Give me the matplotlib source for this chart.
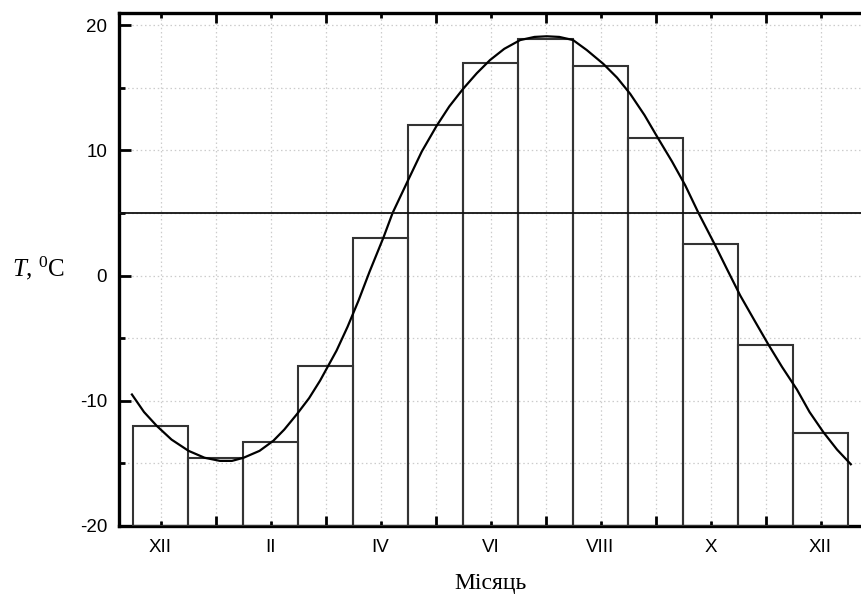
import matplotlib
matplotlib.use("Agg")
import matplotlib.pyplot as plt
from matplotlib.ticker import MultipleLocator, FixedLocator

# monthly mean temperatures, XII .. XII
months = ["XII", "I", "II", "III", "IV", "V", "VI", "VII", "VIII", "IX", "X", "XI", "XII"]
temps = [-12.0, -14.6, -13.3, -7.2, 3.0, 12.0, 17.0, 18.9, 16.7, 11.0, 2.5, -5.55, -12.6]

# smooth approximating curve (month index, T)
curve_x = [-0.52, -0.3, -0.07, 0.2, 0.51, 0.8, 1.08, 1.3, 1.51, 1.8, 2.05, 2.25, 2.48, 2.7,
           2.9, 3.2, 3.4, 3.6, 3.8, 4.05, 4.22, 4.5, 4.75, 5.02, 5.25, 5.5, 5.75, 5.99,
           6.25, 6.54, 6.8, 7.02, 7.25, 7.5, 7.75, 8.05, 8.3, 8.54, 8.8, 9.04, 9.3, 9.54,
           9.78, 10.08, 10.3, 10.54, 10.8, 11.05, 11.3, 11.57, 11.8, 12.05, 12.3, 12.55]
curve_y = [-9.5, -10.9, -12.0, -13.1, -14.0, -14.55, -14.8, -14.8, -14.55, -14.0, -13.2, -12.3, -11.07, -9.8,
           -8.4, -6.0, -4.1, -2.0, 0.3, 3.0, 5.0, 7.6, 9.9, 11.95, 13.5, 14.9, 16.15, 17.2,
           18.1, 18.8, 19.05, 19.1, 19.05, 18.8, 18.0, 16.9, 15.8, 14.5, 12.8, 11.0, 9.1, 7.2,
           5.0, 2.45, 0.5, -1.6, -3.6, -5.5, -7.3, -9.1, -10.9, -12.5, -13.9, -15.07]

threshold = 5.0

plt.rcParams["mathtext.fontset"] = "custom"
plt.rcParams["mathtext.rm"] = "Liberation Serif"
plt.rcParams["mathtext.it"] = "Liberation Serif:italic"
plt.rcParams["axes.unicode_minus"] = False

fig = plt.figure(figsize=(8.61, 5.96), dpi=100)
ax = fig.add_axes([119 / 861, 70 / 596, (864 - 119) / 861, (583 - 70) / 596])

idx = list(range(len(months)))
ax.bar(idx, [t + 20 for t in temps], bottom=-20, width=1.0, fill=False,
       edgecolor="#333333", linewidth=1.5, zorder=3)
ax.plot(curve_x, curve_y, color="black", linewidth=1.6, zorder=4)
ax.axhline(threshold, color="#111111", linewidth=1.3, zorder=4)

ax.set_xlim(-0.755, 12.79)
ax.set_ylim(-20, 20.96)

ax.xaxis.set_major_locator(FixedLocator(idx[::2]))
ax.set_xticklabels(months[::2])
ax.xaxis.set_minor_locator(FixedLocator(idx[1::2]))
ax.yaxis.set_major_locator(MultipleLocator(10))
ax.yaxis.set_minor_locator(MultipleLocator(5))

ax.tick_params(which="both", direction="in", top=True, right=False, width=2.0, color="black")
ax.tick_params(axis="x", which="major", length=3.8, pad=9, labelsize=13.5, labelfontfamily="Liberation Sans")
ax.tick_params(axis="x", which="minor", length=7.5)
ax.tick_params(axis="y", which="major", length=8.5, pad=8.5, labelsize=13.5, labelfontfamily="Liberation Sans")
ax.tick_params(axis="y", which="minor", length=4.5)

ax.grid(which="both", color="#cccccc", linestyle=(0, (1.2, 2.2)), linewidth=0.9, zorder=0)
ax.set_axisbelow(True)

for s in ax.spines.values():
    s.set_linewidth(2.4)
ax.spines["right"].set_visible(False)

fig.text(490 / 861, 1 - 584 / 596, "Місяць", family="Liberation Serif", fontsize=17,
         ha="center", va="center")
fig.text(12 / 861, 1 - 268 / 596, r"$T$, $^{0}$C", family="Liberation Serif", fontsize=18,
         ha="left", va="center")

fig.savefig("out.png", dpi=100)
